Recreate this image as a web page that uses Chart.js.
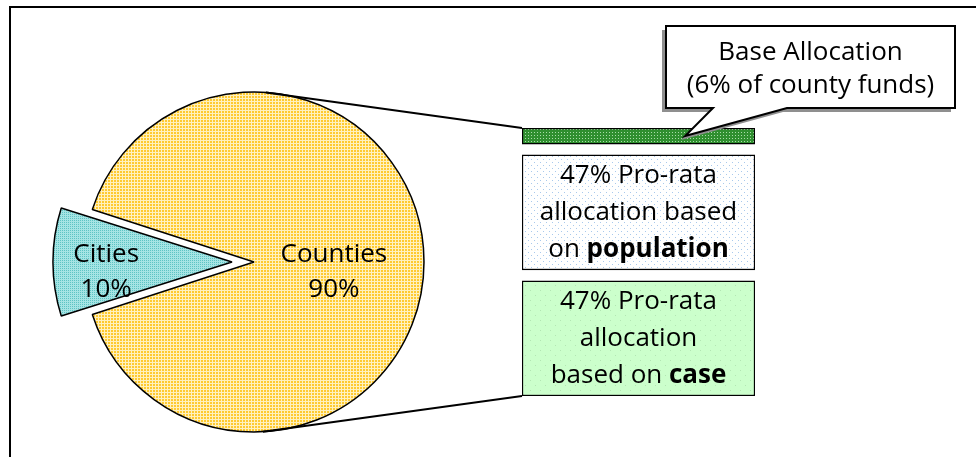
<!DOCTYPE html>
<html>
<head>
<meta charset="utf-8">
<script src="https://cdn.jsdelivr.net/npm/chart.js@4.4.0/dist/chart.umd.min.js"></script>
<style>
  html,body{margin:0;padding:0;background:#fff;overflow:hidden}
  #lienzo{position:relative;width:976px;height:457px;overflow:hidden}
  #lienzo canvas{position:absolute;left:0;top:0}
  #marco{position:absolute;left:9px;top:6px;width:1100px;height:600px;border:2.5px solid #000}
</style>
</head>
<body>
<div id="lienzo">
  <div id="marco"></div>
  <canvas id="grafTorta" width="976" height="457"></canvas>
  <canvas id="grafBarra" width="976" height="457"></canvas>
</div>
<script>
// datos del grafico
const categoriasTorta=['Counties','Cities']
const valoresTorta=[90,10]
const categoriasBarra=['Base Allocation','Population','Case']
const valoresBarra=[6,47,47]
const textosTorta=[['Counties','90%'],['Cities','10%']]
const textosBarra=[
  null,
  [[['47% Pro-rata',false]],[['allocation based',false]],[['on ',false],['population',true]]],
  [[['47% Pro-rata',false]],[['allocation',false]],[['based on ',false],['case',true]]]
]
const textoLlamada=['Base Allocation','(6% of county funds)']

const fuente='"Open Sans", sans-serif'
const tamFuente=26

const patron=(fondo, punto, paso, tam, alterno)=>{
  const c=document.createElement('canvas')
  c.width=paso
  c.height=paso
  const x=c.getContext('2d')
  x.fillStyle=fondo
  x.fillRect(0,0,paso,paso)
  x.fillStyle=punto
  x.fillRect(0,0,tam,tam)
  if(alterno){
    x.fillRect(paso/2,paso/2,tam,tam)
  }
  return x.createPattern(c,'repeat')
}

const colTorta=[
  patron('#FFF1BE','#FFCA30',3,2,false),
  patron('#A6E4E4','#5EC4C4',2,1,false)
]
const colBarra=[
  patron('#2F8F2F','#A8DCA8',3,1,false),
  patron('#FFFFFF','#A9C9EC',6,1,true),
  patron('#CCFFCC','#B3E6B3',10,1,true)
]

// lineas con partes en negrita
const lineaMixta=(ctx, partes, cx, y)=>{
  let total=0
  partes.forEach(p=>{
    ctx.font=(p[1]?'bold ':'')+tamFuente+'px '+fuente
    total+=ctx.measureText(p[0]).width
  })
  let x=cx-total/2
  ctx.textAlign='left'
  partes.forEach(p=>{
    ctx.font=(p[1]?'bold ':'')+tamFuente+'px '+fuente
    ctx.fillText(p[0],x,y)
    x+=ctx.measureText(p[0]).width
  })
}

const etiquetasTorta={
  id:'etiquetasTorta',
  afterDatasetsDraw(chart){
    const ctx=chart.ctx
    const arcos=chart.getDatasetMeta(0).data
    ctx.save()
    ctx.fillStyle='#000'
    ctx.font=tamFuente+'px '+fuente
    ctx.textAlign='center'
    ctx.textBaseline='alphabetic'
    const factores=[0.47,0.74]
    arcos.forEach((a,i)=>{
      const medio=(a.startAngle+a.endAngle)/2
      // chart.js desplaza el arco offset/4
      const desp=(a.options.offset||0)/4
      const r=a.outerRadius*factores[i]+desp
      const x=a.x+Math.cos(medio)*r
      const y=a.y+Math.sin(medio)*r
      ctx.fillText(textosTorta[i][0],x,y)
      ctx.fillText(textosTorta[i][1],x,y+35)
    })
    ctx.restore()
  }
}

const torta=new Chart(document.getElementById('grafTorta'),{
  type:'pie',
  data:{
    labels:categoriasTorta,
    datasets:[{
      data:valoresTorta,
      backgroundColor:colTorta,
      borderColor:'#000',
      borderWidth:1.5,
      offset:[0,88]
    }]
  },
  options:{
    responsive:false,
    animation:false,
    events:[],
    rotation:-72,
    radius:170,
    layout:{padding:{left:0,right:468,top:67,bottom:0}},
    plugins:{legend:{display:false},tooltip:{enabled:false}}
  },
  plugins:[etiquetasTorta]
})

// barra flotante: cada tramo parte donde termina el anterior, con un pequeño espacio
const separacion=4
let acumulado=0
const tramos=valoresBarra.map((v,i)=>{
  const t=[acumulado+(i>0?separacion:0),acumulado+v]
  acumulado+=v
  return t
})

const decoracionBarra={
  id:'decoracionBarra',
  afterDatasetsDraw(chart){
    const ctx=chart.ctx
    const barras=categoriasBarra.map((c,i)=>chart.getDatasetMeta(i).data[0])
    const izq=b=>b.x-b.width/2
    const arcoTorta=torta.getDatasetMeta(0).data[0]
    ctx.save()

    // lineas de union torta -> barra
    const cx=arcoTorta.x, cy=arcoTorta.y, r=arcoTorta.outerRadius
    const primera=barras[0], ultima=barras[barras.length-1]
    const angArriba=-86*Math.PI/180
    const angAbajo=87*Math.PI/180
    ctx.strokeStyle='#000'
    ctx.lineWidth=2
    ctx.beginPath()
    ctx.moveTo(cx+Math.cos(angArriba)*r,cy+Math.sin(angArriba)*r)
    ctx.lineTo(izq(primera),Math.min(primera.y,primera.base))
    ctx.moveTo(cx+Math.cos(angAbajo)*r,cy+Math.sin(angAbajo)*r)
    ctx.lineTo(izq(ultima),Math.max(ultima.y,ultima.base))
    ctx.stroke()

    // textos de las cajas
    ctx.fillStyle='#000'
    ctx.textBaseline='middle'
    barras.forEach((b,i)=>{
      const lineas=textosBarra[i]
      if(!lineas) return
      const centroY=(b.y+b.base)/2
      const inicio=centroY-(lineas.length-1)*37/2
      lineas.forEach((l,j)=>lineaMixta(ctx,l,b.x,inicio+j*37))
    })

    // llamada "Base Allocation"
    const punta={x:izq(primera)+primera.width*0.7,y:(primera.y+primera.base)/2}
    const caja={x:666,y:26,w:289,h:82}
    const forma=(dx,dy)=>{
      ctx.beginPath()
      ctx.moveTo(caja.x+dx,caja.y+dy)
      ctx.lineTo(caja.x+caja.w+dx,caja.y+dy)
      ctx.lineTo(caja.x+caja.w+dx,caja.y+caja.h+dy)
      ctx.lineTo(787+dx,caja.y+caja.h+dy)
      ctx.lineTo(punta.x+dx,punta.y+dy)
      ctx.lineTo(713+dx,caja.y+caja.h+dy)
      ctx.lineTo(caja.x+dx,caja.y+caja.h+dy)
      ctx.closePath()
    }
    forma(-4,4)
    ctx.fillStyle='#8f8f8f'
    ctx.fill()
    forma(0,0)
    ctx.fillStyle='#fff'
    ctx.fill()
    ctx.lineWidth=2
    ctx.lineJoin='miter'
    ctx.stroke()
    ctx.fillStyle='#000'
    ctx.textAlign='center'
    ctx.textBaseline='alphabetic'
    ctx.font=tamFuente+'px '+fuente
    ctx.fillText(textoLlamada[0],caja.x+caja.w/2,60)
    ctx.fillText(textoLlamada[1],caja.x+caja.w/2,93)
    ctx.restore()
  }
}

new Chart(document.getElementById('grafBarra'),{
  type:'bar',
  data:{
    labels:[''],
    datasets:categoriasBarra.map((c,i)=>({
      label:c,
      data:[tramos[i]],
      backgroundColor:colBarra[i],
      borderColor:'#000',
      borderWidth:1.5,
      borderSkipped:false,
      barPercentage:1,
      categoryPercentage:1
    }))
  },
  options:{
    responsive:false,
    animation:false,
    events:[],
    layout:{padding:{top:128,bottom:61,left:522,right:221}},
    scales:{
      x:{display:false,stacked:true},
      y:{display:false,min:0,max:100,reverse:true}
    },
    plugins:{legend:{display:false},tooltip:{enabled:false}}
  },
  plugins:[decoracionBarra]
})
</script>
</body>
</html>
